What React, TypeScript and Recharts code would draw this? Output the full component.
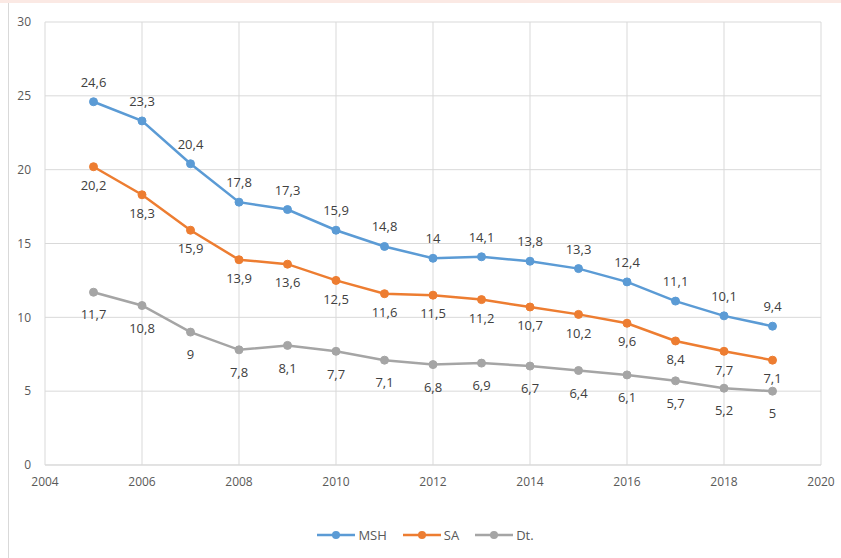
import React from "react";
import {
  LineChart,
  Line,
  XAxis,
  YAxis,
  CartesianGrid,
  Legend,
  LabelList,
} from "recharts";

const years = [2005, 2006, 2007, 2008, 2009, 2010, 2011, 2012, 2013, 2014, 2015, 2016, 2017, 2018, 2019];
const msh = [24.6, 23.3, 20.4, 17.8, 17.3, 15.9, 14.8, 14, 14.1, 13.8, 13.3, 12.4, 11.1, 10.1, 9.4];
const sa = [20.2, 18.3, 15.9, 13.9, 13.6, 12.5, 11.6, 11.5, 11.2, 10.7, 10.2, 9.6, 8.4, 7.7, 7.1];
const dt = [11.7, 10.8, 9, 7.8, 8.1, 7.7, 7.1, 6.8, 6.9, 6.7, 6.4, 6.1, 5.7, 5.2, 5];

const xTicks = [2004, 2006, 2008, 2010, 2012, 2014, 2016, 2018, 2020];
const yTicks = [0, 5, 10, 15, 20, 25, 30];

const series = [
  { key: "msh", name: "MSH", color: "#5B9BD5", labelPos: "top", labelOffset: 15 },
  { key: "sa", name: "SA", color: "#ED7D31", labelPos: "bottom", labelOffset: 14 },
  { key: "dt", name: "Dt.", color: "#A5A5A5", labelPos: "bottom", labelOffset: 18 },
];

const data = years.map((year, i) => ({ year, msh: msh[i], sa: sa[i], dt: dt[i] }));

const fmt = (v: any) => String(v).replace(".", ",");

const font = "'Open Sans', 'Liberation Sans', sans-serif";

function LegendContent() {
  return (
    <div style={{ display: "flex", justifyContent: "center", gap: 16, fontFamily: font, fontSize: 13, color: "#595959", paddingLeft: 20 }}>
      {series.map((s) => (
        <div key={s.key} style={{ display: "flex", alignItems: "center", gap: 3 }}>
          <svg width={38} height={10}>
            <line x1={0} y1={5} x2={38} y2={5} stroke={s.color} strokeWidth={2.5} />
            <circle cx={19} cy={5} r={4} fill={s.color} />
          </svg>
          <span>{s.name}</span>
        </div>
      ))}
    </div>
  );
}

export default function App() {
  return (
    <div
      style={{
        position: "absolute",
        left: 0,
        top: 0,
        width: 841,
        height: 558,
        background: "#fff",
        borderTop: "3px solid #fbe9e4",
        boxSizing: "border-box",
      }}
    >
      <div style={{ position: "absolute", left: 8, top: 0, bottom: 0, width: 1, background: "#d9d9d9" }} />
      <LineChart
        width={841}
        height={555}
        data={data}
        margin={{ top: 19, right: 20, bottom: 12, left: 10 }}
      >
        <CartesianGrid stroke="#d9d9d9" />
        <XAxis
          dataKey="year"
          type="number"
          domain={[2004, 2020]}
          ticks={xTicks}
          tickLine={false}
          axisLine={{ stroke: "#d9d9d9" }}
          tick={{ fill: "#595959", fontSize: 12, fontFamily: font }}
          tickMargin={6}
          height={61}
        />
        <YAxis
          domain={[0, 30]}
          ticks={yTicks}
          width={35}
          tickLine={false}
          axisLine={false}
          tick={{ fill: "#595959", fontSize: 12, fontFamily: font }}
          tickMargin={8}
        />
        <Legend verticalAlign="bottom" height={20} content={<LegendContent />} />
        {series.map((s) => (
          <Line
            key={s.key}
            dataKey={s.key}
            name={s.name}
            stroke={s.color}
            strokeWidth={2.5}
            dot={{ r: 4, fill: s.color, stroke: s.color, strokeWidth: 1 }}
            isAnimationActive={false}
          >
            <LabelList
              dataKey={s.key}
              position={s.labelPos as any}
              offset={s.labelOffset}
              formatter={fmt}
              style={{ fill: "#404040", fontSize: 13, fontFamily: font }}
            />
          </Line>
        ))}
      </LineChart>
    </div>
  );
}
